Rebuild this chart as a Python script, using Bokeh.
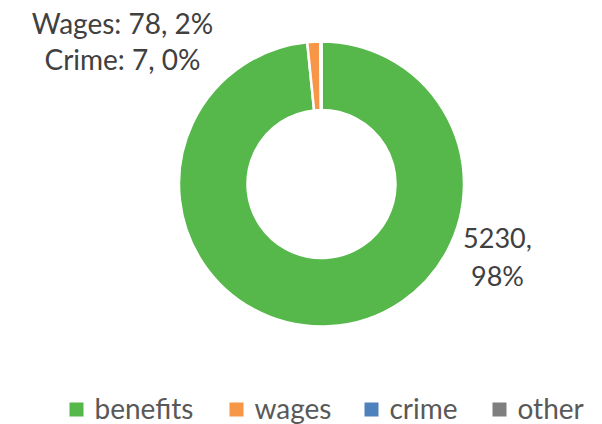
import math
from bokeh.plotting import figure
from bokeh.models import Range1d, ColumnDataSource
from bokeh.core.properties import value
from bokeh.embed import file_html
from bokeh.resources import INLINE

# ---- data ----
categories = ["benefits", "wages", "crime", "other"]
label_names = ["Benefits", "Wages", "Crime", "Other"]
values = [5230, 78, 7, 0]
colors = ["#56B84A", "#F79646", "#4F81BD", "#7F7F7F"]

# ---- percentages (largest remainder, sum to 100) ----
total = float(sum(values))
raw = [v / total * 100 for v in values]
floors = [int(math.floor(r)) for r in raw]
rem = 100 - sum(floors)
order = sorted(range(len(raw)), key=lambda i: raw[i] - floors[i], reverse=True)
pcts = floors[:]
for i in order[:rem]:
    pcts[i] += 1

W, H = 602, 424
p = figure(width=W, height=H, output_backend="svg", toolbar_location=None,
           x_range=Range1d(0, W), y_range=Range1d(0, H),
           min_border=0, outline_line_color=None)
p.axis.visible = False
p.grid.visible = False
p.background_fill_color = "white"
p.border_fill_color = "white"

def Y(py):
    return H - py

cx, cy = 321, Y(183.5)
r_out, r_in = 142.5, 74

starts, ends = [], []
cum = 0.0
for v in values:
    a0 = math.pi / 2 - 2 * math.pi * cum / total
    cum += v
    a1 = math.pi / 2 - 2 * math.pi * cum / total
    starts.append(a0)
    ends.append(a1)

vis = [i for i, v in enumerate(values) if v > 0]
src_vis = ColumnDataSource(dict(start=[starts[i] for i in vis], end=[ends[i] for i in vis],
                                color=[colors[i] for i in vis],
                                x=[cx] * len(vis), y=[cy] * len(vis)))
p.annular_wedge(x="x", y="y", inner_radius=r_in, outer_radius=r_out,
                start_angle="start", end_angle="end", direction="clock",
                fill_color="color", line_color="white", line_width=2.5, source=src_vis)

font = value("Lato")
tcol = "#404040"
dy = 10  # compensation for rendered baseline offset

# data labels
lab_wages = f"{label_names[1]}: {values[1]}, {pcts[1]}%"
lab_crime = f"{label_names[2]}: {values[2]}, {pcts[2]}%"
p.text(x=[122, 122], y=[Y(32 - dy), Y(68 - dy)], text=[lab_wages, lab_crime],
       text_font=font, text_font_size="28px", text_color=tcol,
       text_align="center", text_baseline="alphabetic")
p.text(x=[497, 497], y=[Y(247 - dy), Y(285 - dy)], text=[f"{values[0]},", f"{pcts[0]}%"],
       text_font=font, text_font_size="27px", text_color=tcol,
       text_align="center", text_baseline="alphabetic")

# legend
leg_x = [69, 229, 364, 492]
sq = 14
p.rect(x=[x + sq / 2 for x in leg_x], y=[Y(409)] * 4, width=sq, height=sq,
       fill_color=colors, line_color=None)
p.text(x=[x + 25 for x in leg_x], y=[Y(417 - dy)] * 4, text=categories,
       text_font=font, text_font_size="28px", text_color="#595959",
       text_align="left", text_baseline="alphabetic")

open("out.html", "w").write(file_html(p, INLINE))
